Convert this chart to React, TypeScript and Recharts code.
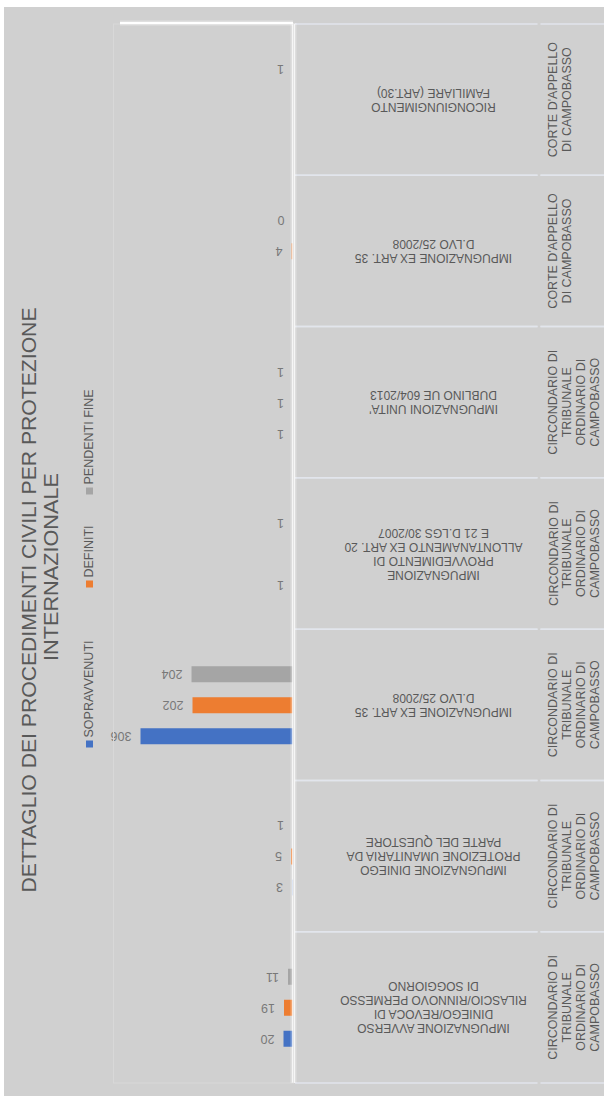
import React from 'react';
import { BarChart, Bar, XAxis, YAxis, LabelList } from 'recharts';

const categories: string[] = [
  'IMPUGNAZIONE AVVERSO\nDINIEGO/REVOCA DI\nRILASCIO/RINNOVO PERMESSO\nDI SOGGIORNO',
  'IMPUGNAZIONE DINIEGO\nPROTEZIONE UMANITARIA DA\nPARTE DEL QUESTORE',
  'IMPUGNAZIONE EX ART. 35\nD.LVO 25/2008',
  'IMPUGNAZIONE\nPROVVEDIMENTO DI\nALLONTANAMENTO EX ART. 20\nE 21 D.LGS 30/2007',
  "IMPUGNAZIONI UNITA'\nDUBLINO UE 604/2013",
  'IMPUGNAZIONE EX ART. 35\nD.LVO 25/2008',
  'RICONGIUNGIMENTO\nFAMILIARE (ART.30)',
];

const groups: string[] = [
  'CIRCONDARIO DI\nTRIBUNALE\nORDINARIO DI\nCAMPOBASSO',
  'CIRCONDARIO DI\nTRIBUNALE\nORDINARIO DI\nCAMPOBASSO',
  'CIRCONDARIO DI\nTRIBUNALE\nORDINARIO DI\nCAMPOBASSO',
  'CIRCONDARIO DI\nTRIBUNALE\nORDINARIO DI\nCAMPOBASSO',
  'CIRCONDARIO DI\nTRIBUNALE\nORDINARIO DI\nCAMPOBASSO',
  "CORTE D'APPELLO\nDI CAMPOBASSO",
  "CORTE D'APPELLO\nDI CAMPOBASSO",
];

const sopravvenuti: (number | null)[] = [20, 3, 306, 1, 1, null, null];
const definiti: (number | null)[] = [19, 5, 202, null, 1, 4, null];
const pendentiFine: (number | null)[] = [11, 1, 204, 1, 1, 0, 1];

const seriesNames = ['SOPRAVVENUTI', 'DEFINITI', 'PENDENTI FINE'];
const seriesColors = ['#4472C4', '#ED7D31', '#A5A5A5'];

const titleLines = ['DETTAGLIO DEI PROCEDIMENTI CIVILI PER PROTEZIONE', 'INTERNAZIONALE'];

const data = categories.map((c, i) => ({
  id: String(i),
  sopravvenuti: sopravvenuti[i],
  definiti: definiti[i],
  pendenti: pendentiFine[i],
}));

const W = 600;
const H = 1089;
const BG = '#d0d0d0';
const TEXT = '#595959';
const FONT = '"Liberation Sans", Arial, sans-serif';
const SEP = '#e2e5ec';

const zeroVisible = (v: any) => (v === 0 ? 0.01 : 0);

const CategoryTick = (props: any) => {
  const { x, y, payload } = props;
  const i = Number(payload.value);
  const half = payload.offset ?? 75.6;
  const lines = categories[i].split('\n');
  const gLines = groups[i].split('\n');
  const cx = x + 140;
  const lh = 14;
  const gx = x + 264;
  return (
    <g>
      <line x1={x + 1.5} x2={x + 244} y1={y - half} y2={y - half} stroke={SEP} strokeWidth={1.5} />
      <line x1={x + 1.5} x2={x + 244} y1={y + half} y2={y + half} stroke={SEP} strokeWidth={1.5} />
      <line x1={x + 247} x2={x + 312} y1={y - half} y2={y - half} stroke={SEP} strokeWidth={1.5} />
      <line x1={x + 247} x2={x + 312} y1={y + half} y2={y + half} stroke={SEP} strokeWidth={1.5} />
      <g transform={`rotate(180 ${cx} ${y})`}>
        <text
          x={cx}
          y={y - ((lines.length - 1) * lh) / 2}
          textAnchor="middle"
          dominantBaseline="central"
          fontSize={12}
          fontFamily={FONT}
          fill={TEXT}
        >
          {lines.map((l, k) => (
            <tspan key={k} x={cx} dy={k === 0 ? 0 : lh}>
              {l}
            </tspan>
          ))}
        </text>
      </g>
      <g transform={`rotate(-90 ${gx} ${y})`}>
        <text x={gx} y={y} textAnchor="middle" fontSize={12.5} fontFamily={FONT} fill={TEXT}>
          {gLines.map((l, k) => (
            <tspan key={k} x={gx} dy={k === 0 ? 0 : 13.7}>
              {l}
            </tspan>
          ))}
        </text>
      </g>
    </g>
  );
};

const ValueLabel = (props: any) => {
  const { x, y, width, height, value } = props;
  if (value === null || value === undefined) return null;
  const left = Math.min(Number(x), Number(x) + Number(width));
  const cy = Number(y) + Number(height) / 2;
  const ax = left - 9;
  return (
    <text
      x={ax}
      y={cy}
      transform={`rotate(180 ${ax} ${cy})`}
      textAnchor="start"
      dominantBaseline="central"
      fontSize={12.5}
      fontFamily={FONT}
      fill="#787878"
    >
      {value}
    </text>
  );
};

const legendMarkerY = [737, 577, 484];
const LEGEND_FS = 12.5;

export default function App() {
  return (
    <div style={{ position: 'absolute', left: 4, top: 7, width: W, height: H, background: BG }}>
      <BarChart
        width={W}
        height={H}
        data={data}
        layout="vertical"
        margin={{ top: 17, right: 0, bottom: 13, left: 109.5 }}
        barSize={16}
        barGap={15}
      >
        <XAxis type="number" domain={[0, 360]} reversed hide allowDataOverflow />
        <YAxis
          type="category"
          dataKey="id"
          orientation="right"
          reversed
          width={310.5}
          tickSize={0}
          tickMargin={0}
          tickLine={false}
          interval={0}
          axisLine={{ stroke: '#ffffff', strokeWidth: 2.5 }}
          tick={<CategoryTick />}
        />
        <Bar dataKey="pendenti" name={seriesNames[2]} fill={seriesColors[2]} minPointSize={zeroVisible} isAnimationActive={false}>
          <LabelList dataKey="pendenti" content={<ValueLabel />} />
        </Bar>
        <Bar dataKey="definiti" name={seriesNames[1]} fill={seriesColors[1]} minPointSize={zeroVisible} isAnimationActive={false}>
          <LabelList dataKey="definiti" content={<ValueLabel />} />
        </Bar>
        <Bar dataKey="sopravvenuti" name={seriesNames[0]} fill={seriesColors[0]} minPointSize={zeroVisible} isAnimationActive={false}>
          <LabelList dataKey="sopravvenuti" content={<ValueLabel />} />
        </Bar>
      </BarChart>
      <svg
        width={W}
        height={H}
        style={{ position: 'absolute', left: 0, top: 0, pointerEvents: 'none' }}
      >
        <rect x={109.5} y={17} width={180} height={1059} fill="none" stroke="#d8d8d8" strokeWidth={1} />
        <line x1={116} x2={289} y1={16} y2={16} stroke="#ffffff" strokeWidth={5} strokeOpacity={0.35} />
        <line x1={116} x2={289} y1={16} y2={16} stroke="#ffffff" strokeWidth={2} />
        <line x1={289.5} x2={289.5} y1={16} y2={1076} stroke="#ffffff" strokeWidth={6} strokeOpacity={0.3} />
        <g transform={`rotate(-90 31.5 593)`}>
          <text x={31.5} y={593} textAnchor="middle" fontSize={20} fontFamily={FONT} fill={TEXT} textLength={585} lengthAdjust="spacingAndGlyphs">
            {titleLines[0]}
          </text>
        </g>
        <g transform={`rotate(-90 54 560)`}>
          <text x={54} y={560} textAnchor="middle" fontSize={20} fontFamily={FONT} fill={TEXT} textLength={188} lengthAdjust="spacingAndGlyphs">
            {titleLines[1]}
          </text>
        </g>
        {seriesNames.map((n, k) => {
          const my = legendMarkerY[k];
          const tx = 89;
          const ty = my - 6.5;
          return (
            <g key={n}>
              <rect x={82} y={my - 3.5} width={7} height={7} fill={seriesColors[k]} />
              <g transform={`rotate(-90 ${tx} ${ty})`}>
                <text x={tx} y={ty} textAnchor="start" fontSize={LEGEND_FS} fontFamily={FONT} fill={TEXT}>
                  {n}
                </text>
              </g>
            </g>
          );
        })}
      </svg>
    </div>
  );
}
